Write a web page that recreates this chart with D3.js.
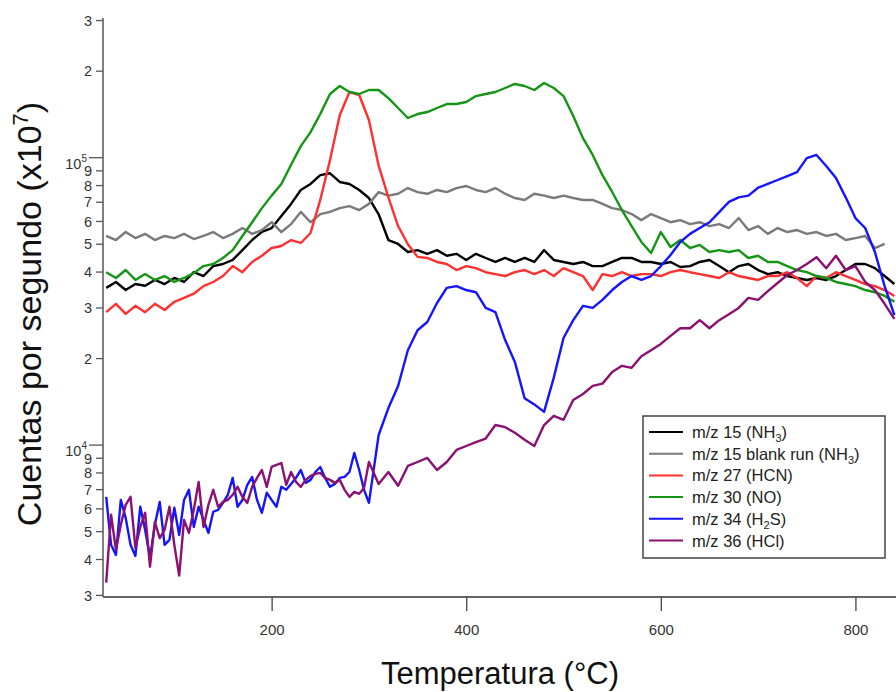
<!DOCTYPE html>
<html>
<head>
<meta charset="utf-8">
<script src="https://cdnjs.cloudflare.com/ajax/libs/d3/7.8.5/d3.min.js"></script>
<style>
body { margin: 0; background: #fff; }
svg { font-family: "Liberation Sans", Arial, Helvetica, sans-serif; }
</style>
</head>
<body>
<svg id="chart" width="896" height="692"></svg>
<script>
// temperature grid (°C)
var temps = [30,40,50,60,70,80,90,100,110,120,
    130,140,150,160,170,180,190,200,210,220,
    230,240,250,260,270,280,290,300,310,320,
    330,340,350,360,370,380,390,400,410,420,
    430,440,450,460,470,480,490,500,510,520,
    530,540,550,560,570,580,590,600,610,620,
    630,640,650,660,670,680,690,700,710,720,
    730,740,750,760,770,780,790,800,810,820,
    830,840];

// finer grid below 300 °C for the two noisy low-signal traces
var tempsFine = [30,35,40,45,50,55,60,65,70,75,
    80,85,90,95,100,105,110,115,120,125,
    130,135,140,145,150,155,160,165,170,175,
    180,185,190,195,200,205,210,215,220,225,
    230,235,240,245,250,255,260,265,270,275,
    280,285,290,295,300,310,320,330,340,350,
    360,370,380,390,400,410,420,430,440,450,
    460,470,480,490,500,510,520,530,540,550,
    560,570,580,590,600,610,620,630,640,650,
    660,670,680,690,700,710,720,730,740,750,
    760,770,780,790,800,810,820,830,840];

// counts per second, in thousands
var nh3 = [35.1,36.8,34.5,36.2,35.7,37.4,36.2,38.0,36.8,39.8,
    38.6,41.8,42.5,43.9,47.5,51.5,55.0,56.7,62.4,68.8,
    76.9,80.7,86.6,87.9,82.0,80.7,76.9,72.1,63.3,51.5,
    49.9,46.8,47.5,46.1,47.5,45.4,46.1,43.9,46.1,44.6,
    43.2,44.6,43.2,44.6,43.2,47.5,43.9,43.2,42.5,43.2,
    41.8,41.8,43.2,44.6,44.6,43.2,43.2,42.5,43.2,41.5,
    41.8,43.2,43.9,41.8,39.8,41.8,42.5,40.5,39.2,39.8,
    38.6,38.0,37.4,38.0,37.4,38.6,40.5,42.5,42.5,41.1,
    38.6,36.2];

// blank run stops at 830
var nh3Blank = [53.2,51.5,54.9,52.3,54.1,51.5,53.2,52.3,54.1,51.9,
    53.2,54.9,52.3,54.1,56.7,54.1,55.8,59.4,54.9,58.5,
    64.5,59.4,63.4,64.5,66.5,67.6,65.5,68.8,75.6,73.5,
    74.6,78.1,75.6,74.6,76.9,75.6,78.1,79.4,76.9,75.6,
    78.1,74.6,72.1,71.0,74.6,73.5,72.1,73.5,72.1,71.0,
    71.0,68.8,66.5,65.5,63.4,60.4,63.4,61.4,59.4,60.4,
    58.5,59.4,57.6,58.5,56.7,61.4,55.8,57.6,54.1,56.7,
    54.9,55.8,54.1,54.9,53.2,54.1,51.5,52.3,53.2,48.3,
    49.9];

var hcn = [28.9,30.9,28.5,30.4,28.9,30.9,29.4,31.4,32.4,33.5,
    35.6,36.8,38.6,41.8,39.8,43.2,45.4,48.3,49.1,51.5,
    50.3,54.5,71.0,97.7,140,168.6,164.6,134.7,93.4,72.5,
    57.6,49.8,45.0,44.6,43.2,42.5,40.5,41.8,41.1,39.8,
    39.2,38.6,39.8,40.5,39.2,40.5,38.6,41.1,39.8,38.6,
    34.5,39.2,38.6,39.8,38.6,39.2,39.2,38.6,39.8,40.5,
    39.8,39.2,38.6,38.0,39.8,38.6,38.0,37.4,38.6,38.6,
    39.8,38.0,35.6,38.6,38.0,39.8,38.6,37.4,36.2,35.6,
    34.5,32.9];

var no = [39.8,38.0,40.5,37.4,39.2,37.4,38.6,36.8,38.0,39.5,
    41.8,42.5,44.6,47.5,53.2,59.4,66.5,73.5,80.7,94.1,
    109.3,122.3,141.3,165.9,176.9,168.6,165.9,171.3,171.3,160.6,
    148.3,136.9,141.3,143.6,148.3,153.1,153.1,155.6,163.2,165.9,
    168.6,174.1,179.8,176.9,171.3,181.2,174.1,163.2,139.1,116.5,
    101.8,86.6,75.7,65.5,57.6,50.7,46.4,54.9,48.7,51.5,
    48.3,49.5,46.8,47.5,46.8,47.5,44.6,45.4,43.2,43.2,
    41.8,40.5,39.8,38.6,38.0,36.8,36.2,35.6,34.5,33.9,
    32.9,31.4];

// on tempsFine
var h2s = [6.58,4.48,4.13,6.42,5.56,4.48,4.10,6.08,5.05,4.04,
    5.26,6.32,4.48,4.66,6.03,4.85,6.42,6.96,5.17,6.08,
    5.47,4.93,5.84,5.93,6.27,6.69,7.66,6.08,6.42,7.25,
    7.72,6.42,5.79,6.80,6.42,6.08,7.13,6.96,7.30,7.66,
    8.16,7.36,7.54,8.03,8.36,7.66,7.13,7.30,7.66,7.72,
    8.03,9.35,8.16,6.96,6.27,10.8,13.4,16.0,21.3,25.0,
    26.7,31.1,35.1,35.6,34.5,33.9,29.9,28.9,23.1,19.4,
    14.5,13.8,13.0,17.1,23.5,27.1,30.4,29.9,31.9,34.5,
    36.8,38.6,37.4,38.6,41.8,45.7,50.7,54.1,56.7,59.4,
    64.4,69.9,72.5,73.5,78.3,80.7,83.3,85.9,88.7,99.3,
    101.8,93.2,84.6,72.5,61.4,56.7,46.8,35.6,28.2];

var hcl = [3.31,5.70,4.30,5.26,6.17,6.58,4.37,5.17,5.79,3.76,
    5.38,4.73,5.05,6.08,4.48,3.50,5.47,4.93,5.93,7.42,
    5.17,6.17,6.96,6.08,6.32,6.42,6.69,7.13,6.58,6.27,
    7.13,7.66,8.16,7.13,8.36,8.50,8.63,7.25,8.03,7.42,
    7.13,7.54,7.78,7.91,7.97,7.66,7.54,7.36,7.54,6.96,
    6.58,6.85,6.74,7.07,8.70,7.30,8.03,7.19,8.43,8.70,
    8.99,8.16,8.70,9.58,9.89,10.2,10.5,11.7,11.5,11.0,
    10.4,9.89,11.7,12.6,12.2,14.3,15.0,16.0,16.3,17.9,
    18.8,18.5,20.3,21.3,22.4,23.9,25.4,25.4,27.1,25.4,
    27.1,28.4,29.9,32.4,31.9,34.2,36.5,38.9,40.5,42.5,
    44.9,41.1,45.4,40.5,41.8,36.8,34.5,30.9,27.4];

var seriesNames = ["m/z 15 (NH_3)", "m/z 15 blank run (NH_3)", "m/z 27 (HCN)",
    "m/z 30 (NO)", "m/z 34 (H_2S)", "m/z 36 (HCl)"];
var seriesColors = ["#000000", "#7a7a7a", "#ff3030", "#159515", "#1414ff", "#8a1072"];
var seriesValues = [nh3, nh3Blank, hcn, no, h2s, hcl];
var seriesTemps = [temps, temps, temps, temps, tempsFine, tempsFine];

var xTicks = [200, 400, 600, 800];
var yTicks = [3000,4000,5000,6000,7000,8000,9000,10000,
    20000,30000,40000,50000,60000,70000,80000,90000,100000,200000,300000];
var yTickLabels = ["3","4","5","6","7","8","9","10^4",
    "2","3","4","5","6","7","8","9","10^5","2","3"];

var margin = { top: 18, left: 103 };
var width = 896 - margin.left;
var height = 597 - margin.top;

var svg = d3.select("#chart");
var g = svg.append("g").attr("transform", "translate(" + margin.left + "," + margin.top + ")");

var x = d3.scaleLinear().domain([26.7, 841.7]).range([0, width]);
var y = d3.scaleLog().domain([2950, 305000]).range([height, 0]);

g.append("clipPath").attr("id", "plot-clip")
    .append("rect").attr("width", width).attr("height", height);

var line = d3.line()
    .x(function (d) { return x(d[0]); })
    .y(function (d) { return y(d[1]); });

var plot = g.append("g").attr("clip-path", "url(#plot-clip)");
seriesValues.forEach(function (vals, i) {
    var tt = seriesTemps[i];
    var pts = vals.map(function (v, j) { return [tt[j], v * 1000]; });
    plot.append("path")
        .attr("d", line(pts))
        .attr("fill", "none")
        .attr("stroke", seriesColors[i])
        .attr("stroke-width", 2.4)
        .attr("stroke-linejoin", "round");
});

// y axis (log)
var yAxis = g.append("g")
    .call(d3.axisLeft(y).tickValues(yTicks).tickSize(7).tickFormat(""));
yAxis.select(".domain").attr("stroke", "#808080").attr("stroke-width", 2)
    .attr("d", "M0," + height + "V0");
yAxis.selectAll(".tick line").attr("stroke", "#555").attr("stroke-width", 1.3)
    .attr("x2", function (d, i) { return yTickLabels[i].indexOf("^") > 0 ? -14 : -7; });
yAxis.selectAll(".tick").each(function (d, i) {
    var lab = yTickLabels[i];
    var t = d3.select(this).append("text")
        .attr("fill", "#333")
        .attr("font-size", 14.5)
        .attr("text-anchor", "end");
    if (lab.indexOf("^") > 0) {
        var parts = lab.split("^");
        t.attr("x", -16).attr("y", 11);
        t.append("tspan").text(parts[0]);
        t.append("tspan").attr("font-size", 10).attr("dy", -7).text(parts[1]);
    } else {
        t.attr("x", -11).attr("dy", "0.36em").text(lab);
    }
});

// x axis
var xAxis = g.append("g")
    .attr("transform", "translate(0," + height + ")")
    .call(d3.axisBottom(x).tickValues(xTicks).tickSize(14).tickPadding(13).tickFormat(d3.format("d")));
xAxis.select(".domain").attr("stroke", "#666").attr("stroke-width", 2)
    .attr("d", "M0,0H" + width);
xAxis.selectAll(".tick line").attr("stroke", "#444").attr("stroke-width", 1.3);
xAxis.selectAll(".tick text").attr("fill", "#333").attr("font-size", 15)
    .attr("font-family", "\"Liberation Sans\", Arial, sans-serif");

// axis titles
svg.append("text")
    .attr("x", 500).attr("y", 684)
    .attr("text-anchor", "middle")
    .attr("font-size", 31)
    .attr("fill", "#111")
    .text("Temperatura (°C)");

var yTitle = svg.append("text")
    .attr("transform", "translate(41,314) rotate(-90)")
    .attr("text-anchor", "middle")
    .attr("font-size", 34)
    .attr("fill", "#111");
yTitle.append("tspan").text("Cuentas por segundo (x10");
yTitle.append("tspan").attr("font-size", 22).attr("dy", -13).text("7");
yTitle.append("tspan").attr("dy", 13).text(")");

// legend
var legend = svg.append("g").attr("transform", "translate(643,416)");
legend.append("rect")
    .attr("width", 242).attr("height", 142)
    .attr("fill", "#fff").attr("stroke", "#444").attr("stroke-width", 1.5);
seriesNames.forEach(function (name, i) {
    var ly = 16 + i * 21.7;
    legend.append("line")
        .attr("x1", 6).attr("x2", 40).attr("y1", ly).attr("y2", ly)
        .attr("stroke", seriesColors[i]).attr("stroke-width", 2);
    var t = legend.append("text")
        .attr("x", 49).attr("y", ly + 6)
        .attr("font-size", 16.5).attr("fill", "#222");
    var k = name.indexOf("_");
    if (k < 0) {
        t.text(name);
    } else {
        t.append("tspan").text(name.substring(0, k));
        t.append("tspan").attr("font-size", 11).attr("dy", 4).text(name.charAt(k + 1));
        t.append("tspan").attr("dy", -4).text(name.substring(k + 2));
    }
});
</script>
</body>
</html>
